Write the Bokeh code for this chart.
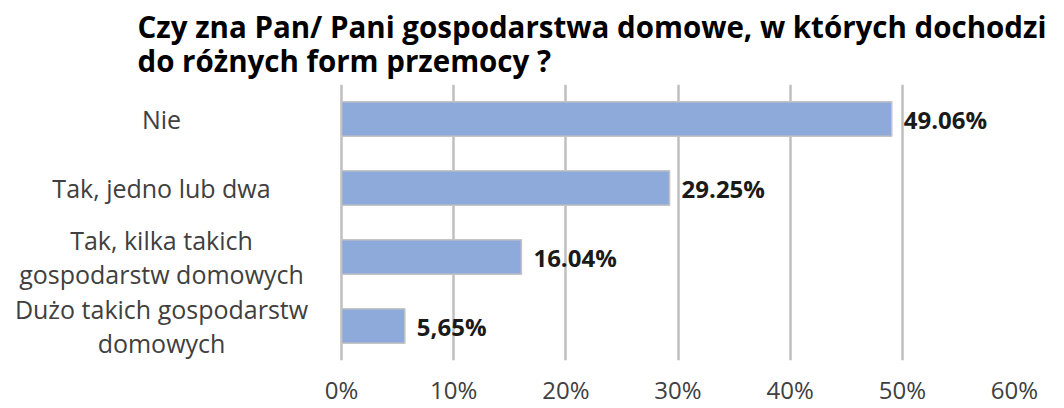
from bokeh.plotting import figure
from bokeh.models import FactorRange, Range1d, FixedTicker, ColumnDataSource
from bokeh.core.properties import value
from bokeh.embed import file_html
from bokeh.resources import INLINE

title_text = "Czy zna Pan/ Pani gospodarstwa domowe, w których dochodzi\ndo różnych form przemocy ?"
categories = ["Nie", "Tak, jedno lub dwa", "Tak, kilka takich\ngospodarstw domowych",
              "Dużo takich gospodarstw\ndomowych"]
values = [49.06, 29.25, 16.04, 5.65]
value_labels = ["49.06%", "29.25%", "16.04%", "5,65%"]
tick_values = [0, 10, 20, 30, 40, 50, 60]
tick_labels = ["0%", "10%", "20%", "30%", "40%", "50%", "60%"]

FONT = "Open Sans"

# layout (pixels)
W, H = 1056, 408
ZERO_PX = 341          # where 0% sits
FRAME_RIGHT = 1014     # where 60% sits
LABEL_CENTER_PX = 161  # centre of category label column
xmax = tick_values[-1]
scale = (FRAME_RIGHT - ZERO_PX) / xmax
xmin = -ZERO_PX / scale
label_x = (LABEL_CENTER_PX - ZERO_PX) / scale

src = ColumnDataSource(dict(cat=categories, val=values, lab=value_labels,
                            lx=[label_x] * len(categories)))

p = figure(width=W, height=H, output_backend="svg", toolbar_location=None,
           y_range=FactorRange(*reversed(categories), range_padding=0),
           x_range=Range1d(xmin, xmax), y_axis_location=None,
           min_border_left=0, min_border_right=W - FRAME_RIGHT,
           min_border_top=84, min_border_bottom=43)
p.outline_line_color = None
p.background_fill_color = "white"
p.border_fill_color = "white"

p.title.text = title_text
p.title.text_font = FONT
p.title.text_font_size = "29.5px"
p.title.text_font_style = "bold"
p.title.text_color = "#000000"
p.title.align = "left"
p.title.offset = 137
p.title.standoff = 6
p.title.text_line_height = 0.84

p.hbar(y="cat", right="val", left=0, height=0.5, source=src,
       fill_color="#8eaadb", line_color="#c4c4c4", line_width=1.5)

p.text(x="val", y="cat", text="lab", source=src, x_offset=12,
       text_font=value(FONT), text_font_size="24px", text_font_style="bold",
       text_color="#1a1a1a", text_baseline="middle", text_align="left")

p.text(x="lx", y="cat", text="cat", source=src,
       text_font=value(FONT), text_font_size="25px",
       text_color="#404040", text_baseline="middle", text_align="center",
       text_line_height=1.02)

p.xaxis.ticker = FixedTicker(ticks=tick_values)
p.xaxis.major_label_overrides = {t: l for t, l in zip(tick_values, tick_labels)}
p.xaxis.axis_line_color = None
p.xaxis.major_tick_line_color = None
p.xaxis.minor_tick_line_color = None
p.xaxis.major_tick_out = 0
p.xaxis.major_tick_in = 0
p.xaxis.major_label_standoff = 12
p.xaxis.major_label_text_font = FONT
p.xaxis.major_label_text_font_size = "24px"
p.xaxis.major_label_text_color = "#404040"

p.xgrid.grid_line_color = "#bfbfbf"
p.xgrid.grid_line_width = 2.5
p.ygrid.grid_line_color = None

open("out.html", "w").write(file_html(p, INLINE))
